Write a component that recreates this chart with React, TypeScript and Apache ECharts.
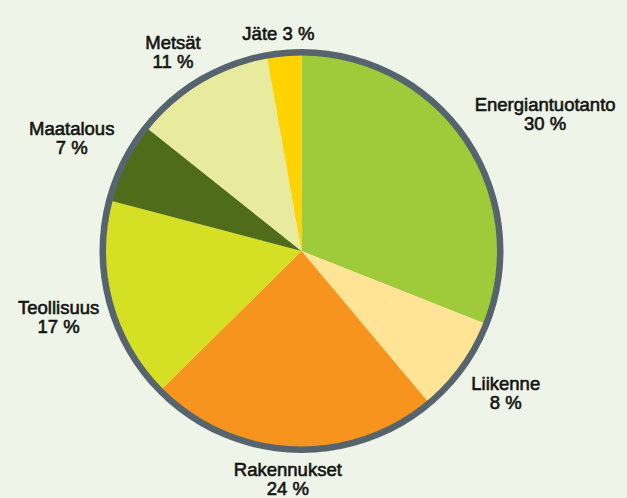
import React, { useEffect, useRef } from "react";
import * as echarts from "echarts";

const categories = ["Energiantuotanto", "Liikenne", "Rakennukset", "Teollisuus", "Maatalous", "Metsät", "Jäte"];
const sliceValues = [31.0, 7.9, 23.7, 16.5, 6.6, 11.5, 2.8];
const labelPercents = [30, 8, 24, 17, 7, 11, 3];
const labelOneLine = [false, false, false, false, false, false, true];
const sliceColors = ["#9fcb3b", "#fee494", "#f7941d", "#d5df23", "#4f6c1a", "#e8eb9d", "#ffd200"];

const CX = 301.5;
const CY = 251;
const R = 202;
const BORDER = 6.5;
const GAP = 7;
const KX = 1.5;
const KY = 2.5;

const clamp = (v: number) => Math.max(-1, Math.min(1, v));

export default function App() {
  const ref = useRef<HTMLDivElement>(null);
  useEffect(() => {
    const chart = echarts.init(ref.current!, null, { renderer: "svg" });
    const total = sliceValues.reduce((a, b) => a + b, 0);
    const mids: number[] = [];
    let acc = 0;
    sliceValues.forEach((v) => {
      mids.push(((acc + v / 2) / total) * Math.PI * 2);
      acc += v;
    });
    chart.setOption({
      animation: false,
      backgroundColor: "#eef4e7",
      series: [
        {
          type: "pie",
          center: [CX, CY],
          radius: [0, R - 1],
          startAngle: 90,
          clockwise: true,
          silent: true,
          avoidLabelOverlap: false,
          data: categories.map((name, i) => ({ name, value: sliceValues[i], itemStyle: { color: sliceColors[i] } })),
          itemStyle: { borderWidth: 0 },
          label: {
            show: true,
            position: "outside",
            formatter: (p: any) =>
              `${p.name}${labelOneLine[p.dataIndex] ? " " : "\n"}${labelPercents[p.dataIndex]} %`,
            fontFamily: "Liberation Sans, Arial, sans-serif",
            fontSize: 18.5,
            lineHeight: 19,
            color: "#141414",
            textBorderColor: "#141414",
            textBorderWidth: 0.6,
          },
          labelLine: { show: false, length: 10, length2: 0 },
          labelLayout: (params: any) => {
            const a = mids[params.dataIndex];
            const ux = Math.sin(a);
            const uy = -Math.cos(a);
            const w = params.labelRect.width / 2;
            const h = params.labelRect.height / 2;
            const d = R + GAP;
            const px = CX + ux * d;
            const py = CY + uy * d;
            return {
              x: px + w * clamp(KX * ux),
              y: py + h * clamp(KY * uy),
              align: "center",
              verticalAlign: "middle",
            };
          },
          emphasis: { disabled: true },
        },
        {
          type: "pie",
          center: [CX, CY],
          radius: [R - BORDER, R],
          silent: true,
          z: 3,
          label: { show: false },
          labelLine: { show: false },
          data: [{ value: 1, name: "border", itemStyle: { color: "#56646e" } }],
          emphasis: { disabled: true },
        },
      ],
    });
    return () => chart.dispose();
  }, []);
  return <div ref={ref} style={{ position: "fixed", left: 0, top: 0, width: 627, height: 498 }} />;
}
